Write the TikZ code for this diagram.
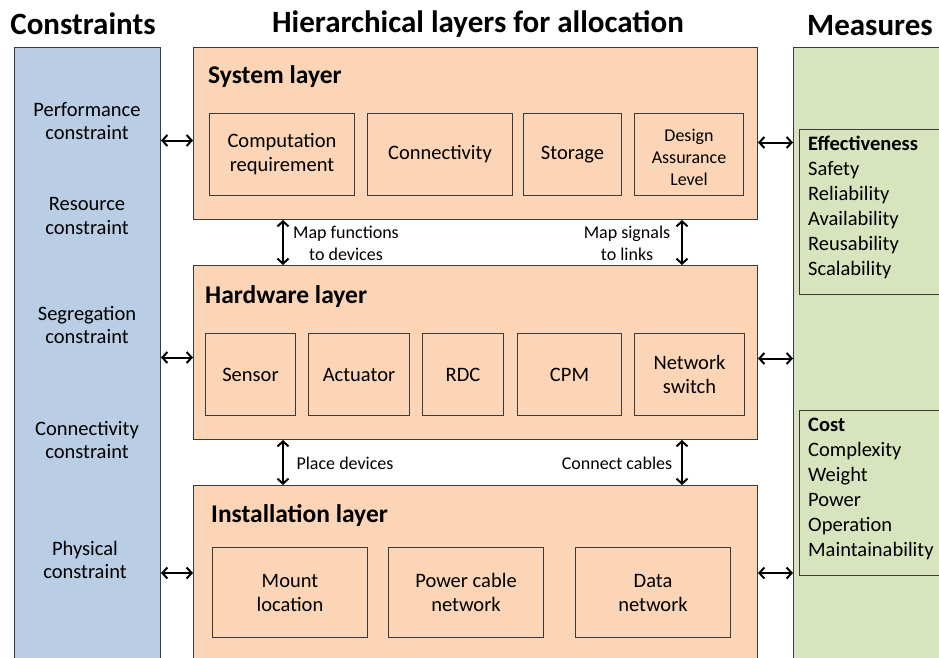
\documentclass[tikz,border=0pt]{standalone}
\usepackage{fontspec}
\setmainfont{Carlito}
\usetikzlibrary{arrows.meta}
\definecolor{cblue}{HTML}{B9CDE5}
\definecolor{corange}{HTML}{FBD5B5}
\definecolor{cgreen}{HTML}{D7E4BD}
\definecolor{cline}{HTML}{3A3A3A}
\begin{document}
\begin{tikzpicture}[x=1pt,y=-1pt,
  panel/.style={draw=cline, line width=1pt, anchor=north west, inner sep=0pt},
  layer/.style={draw=cline, fill=corange, line width=1pt, anchor=north west, inner sep=0pt},
  sub/.style={draw=cline, line width=1pt, anchor=north west, inner sep=0pt, align=center, font=\fontsize{20.5}{24}\selectfont},
  hdr/.style={font=\fontsize{31}{35}\selectfont\bfseries, inner sep=0pt},
  ttl/.style={font=\fontsize{25.5}{29}\selectfont\bfseries, inner sep=0pt, anchor=west},
  ctxt/.style={font=\fontsize{20.5}{23.5}\selectfont, align=center, inner sep=0pt},
  lbl/.style={font=\fontsize{18}{22}\selectfont, align=center, inner sep=0pt},
  mtxt/.style={font=\fontsize{20.5}{25}\selectfont, align=left, inner sep=0pt, anchor=north west},
  dbl/.style={{Straight Barb[length=5pt,width=11pt]}-{Straight Barb[length=5pt,width=11pt]}, line width=2pt, black}
]
\useasboundingbox (0,0) rectangle (939,657);
\clip (0,0) rectangle (939,657);

% headers
\node[hdr] (hcons) at (83,24) {Constraints};
\node[hdr] (hlay) at (478,24) {Hierarchical layers for allocation};
\node[hdr] (hmeas) at (870,26) {Measures};

% side panels
\node[panel, fill=cblue, minimum width=146pt, minimum height=640pt] (cons) at (14,47) {};
\node[panel, fill=cgreen, minimum width=170pt, minimum height=640pt] (meas) at (793,47) {};
\node[panel, fill=cgreen, minimum width=160pt, minimum height=165pt] (eff) at (799,129) {};
\node[panel, fill=cgreen, minimum width=160pt, minimum height=165pt] (cost) at (799,410) {};

% constraints text
\node[ctxt] (c1) at (87,121) {Performance\\constraint};
\node[ctxt] (c2) at (87,216) {Resource\\constraint};
\node[ctxt] (c3) at (87,325) {Segregation\\constraint};
\node[ctxt] (c4) at (87,440) {Connectivity\\constraint};
\node[ctxt] (c5) at (85,560) {Physical\\constraint};

% measures text
\node[mtxt] (efft) at (808,136) {\textbf{Effectiveness}\\Safety\\Reliability\\Availability\\Reusability\\Scalability};
\node[mtxt] (costt) at (808,418) {\textbf{Cost}\\Complexity\\Weight\\Power\\Operation\\Maintainability};

% layers
\node[layer, minimum width=564pt, minimum height=172pt] (sys) at (193,47) {};
\node[layer, minimum width=564pt, minimum height=174pt] (hw) at (193,265) {};
\node[layer, minimum width=564pt, minimum height=200pt] (inst) at (193,485) {};

\node[ttl] (tsys) at (208,77) {System layer};
\node[ttl] (thw) at (205,297) {Hardware layer};
\node[ttl] (tinst) at (211,516) {Installation layer};

% system sub-boxes
\node[sub, minimum width=145pt, minimum height=82pt] (comp) at (209,113) {Computation\\requirement};
\node[sub, minimum width=145pt, minimum height=82pt] (conn) at (367,113) {Connectivity};
\node[sub, minimum width=98pt, minimum height=82pt] (stor) at (523,113) {Storage};
\node[sub, minimum width=109pt, minimum height=82pt, font=\fontsize{18}{22}\selectfont] (dal) at (634,113) {\rule{0pt}{19pt}Design\\Assurance\\Level};

% hardware sub-boxes
\node[sub, minimum width=90pt, minimum height=82pt] (sens) at (205,333) {Sensor};
\node[sub, minimum width=101pt, minimum height=82pt] (act) at (308,333) {Actuator};
\node[sub, minimum width=81pt, minimum height=82pt] (rdc) at (422,333) {RDC};
\node[sub, minimum width=104pt, minimum height=82pt] (cpm) at (517,333) {CPM};
\node[sub, minimum width=110pt, minimum height=82pt] (nsw) at (634,333) {Network\\switch};

% installation sub-boxes
\node[sub, minimum width=155pt, minimum height=90pt] (mount) at (212,547) {Mount\\location};
\node[sub, minimum width=155pt, minimum height=90pt] (pcn) at (388,547) {Power cable\\network};
\node[sub, minimum width=155pt, minimum height=90pt] (dnet) at (575,547) {Data\\network};

% horizontal arrows
\coordinate (l1) at ([yshift=-7pt]sys.west);
\coordinate (l2) at ([yshift=-5pt]hw.west);
\coordinate (lr3) at (0,573);
\draw[dbl] (l1 -| cons.east) -- (l1);
\draw[dbl] (l2 -| cons.east) -- (l2);
\draw[dbl] (cons.east |- lr3) -- (inst.west |- lr3);
\coordinate (r1) at ([yshift=-9pt]sys.east);
\coordinate (r2) at ([yshift=-6pt]hw.east);
\draw[dbl] (r1) -- (r1 -| meas.west);
\draw[dbl] (r2) -- (r2 -| meas.west);
\draw[dbl] (inst.east |- lr3) -- (meas.west |- lr3);

% vertical arrows
\coordinate (vl) at (283,0);
\coordinate (vr) at (682,0);
\draw[dbl] (vl |- sys.south) -- (vl |- hw.north);
\draw[dbl] (vr |- sys.south) -- (vr |- hw.north);
\draw[dbl] (vl |- hw.south) -- (vl |- inst.north);
\draw[dbl] (vr |- hw.south) -- (vr |- inst.north);

\node[lbl] (lab1) at (346,243) {Map functions\\to devices};
\node[lbl] (lab2) at (627,243) {Map signals\\to links};
\node[lbl] (lab3) at (345,463) {Place devices};
\node[lbl] (lab4) at (617,463) {Connect cables};
\end{tikzpicture}
\end{document}
